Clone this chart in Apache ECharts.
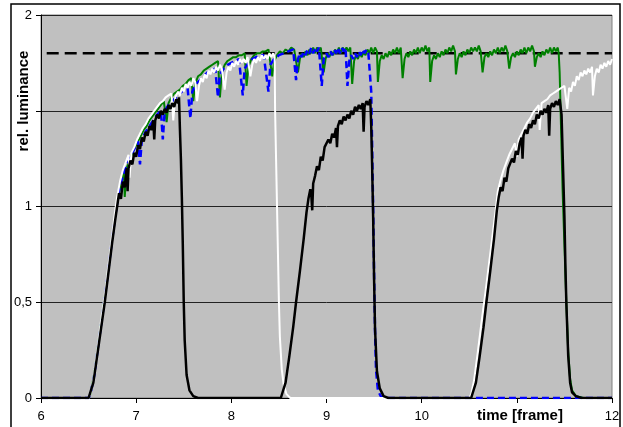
<!DOCTYPE html>
<html>
<head>
<meta charset="utf-8">
<script src="https://cdn.jsdelivr.net/npm/echarts@6/dist/echarts.min.js"></script>
<style>
    html, body { margin: 0; padding: 0; background: #fff; }
    #main { width: 623px; height: 427px; }
</style>
</head>
<body>
<div id="main"></div>
<script>
// time [frame] vs rel. luminance
const xTicks = [6, 7, 8, 9, 10, 11, 12]
const yTicks = [0, 0.5, 1, 1.5, 2]
const hiddenXLabels = [11]      // covered by the axis title
const hiddenYLabels = [1.5]     // covered by the axis title
const targetLevel = 1.8

const greenData = [
    [6, 0], [6.5, 0], [6.52, 0.02], [6.56, 0.13], [6.6, 0.28], [6.65, 0.46], [6.7, 0.64], [6.74, 0.8], [6.78, 0.95],
    [6.81, 1.05], [6.84, 1.12], [6.87, 1.18], [6.88, 1.05], [6.9, 1.2], [6.93, 1.24], [6.96, 1.28], [6.99, 1.31],
    [7.02, 1.34], [7.05, 1.37], [7.08, 1.4], [7.11, 1.42], [7.14, 1.45], [7.17, 1.47], [7.2, 1.49], [7.23, 1.51],
    [7.26, 1.53], [7.29, 1.55], [7.32, 1.44], [7.34, 1.54], [7.37, 1.57], [7.4, 1.59], [7.43, 1.6], [7.46, 1.61],
    [7.49, 1.63], [7.52, 1.64], [7.55, 1.66], [7.58, 1.67], [7.6, 1.55], [7.62, 1.64], [7.65, 1.68], [7.68, 1.69],
    [7.71, 1.71], [7.74, 1.72], [7.77, 1.73], [7.8, 1.74], [7.83, 1.75], [7.86, 1.76], [7.88, 1.57], [7.9, 1.7],
    [7.93, 1.74], [7.96, 1.76], [7.99, 1.77], [8.02, 1.78], [8.05, 1.78], [8.08, 1.79], [8.11, 1.79], [8.14, 1.8],
    [8.16, 1.63], [8.18, 1.73], [8.21, 1.77], [8.24, 1.79], [8.27, 1.8], [8.3, 1.8], [8.33, 1.81], [8.36, 1.81],
    [8.39, 1.82], [8.41, 1.82], [8.43, 1.68], [8.45, 1.76], [8.48, 1.79], [8.51, 1.81], [8.54, 1.8], [8.57, 1.82],
    [8.6, 1.81], [8.63, 1.83], [8.66, 1.82], [8.68, 1.83], [8.7, 1.7], [8.72, 1.77], [8.74, 1.8], [8.76, 1.78],
    [8.78, 1.81], [8.8, 1.79], [8.82, 1.82], [8.84, 1.8], [8.86, 1.83], [8.88, 1.8], [8.9, 1.83], [8.92, 1.81],
    [8.94, 1.83], [8.97, 1.7], [8.99, 1.77], [9.01, 1.8], [9.03, 1.78], [9.05, 1.81], [9.07, 1.79], [9.09, 1.82],
    [9.11, 1.8], [9.13, 1.83], [9.15, 1.8], [9.17, 1.83], [9.19, 1.81], [9.21, 1.83], [9.23, 1.81], [9.25, 1.83],
    [9.27, 1.64], [9.29, 1.76], [9.31, 1.79], [9.33, 1.77], [9.35, 1.8], [9.37, 1.78], [9.39, 1.81], [9.41, 1.79],
    [9.43, 1.82], [9.45, 1.8], [9.47, 1.83], [9.49, 1.8], [9.51, 1.83], [9.53, 1.81], [9.54, 1.65], [9.56, 1.76],
    [9.58, 1.79], [9.6, 1.77], [9.62, 1.8], [9.64, 1.78], [9.66, 1.81], [9.68, 1.79], [9.7, 1.82], [9.72, 1.8],
    [9.74, 1.83], [9.76, 1.8], [9.78, 1.83], [9.8, 1.67], [9.82, 1.77], [9.84, 1.8], [9.86, 1.78], [9.88, 1.81],
    [9.9, 1.79], [9.92, 1.82], [9.94, 1.8], [9.96, 1.83], [9.98, 1.8], [10, 1.83], [10.02, 1.81], [10.04, 1.84],
    [10.06, 1.81], [10.08, 1.83], [10.09, 1.65], [10.11, 1.76], [10.13, 1.79], [10.15, 1.77], [10.17, 1.8],
    [10.19, 1.78], [10.21, 1.81], [10.23, 1.79], [10.25, 1.82], [10.27, 1.8], [10.29, 1.83], [10.31, 1.81],
    [10.33, 1.84], [10.35, 1.81], [10.36, 1.69], [10.38, 1.77], [10.4, 1.8], [10.42, 1.78], [10.44, 1.81],
    [10.46, 1.79], [10.48, 1.82], [10.5, 1.8], [10.52, 1.83], [10.54, 1.81], [10.56, 1.83], [10.58, 1.81],
    [10.6, 1.84], [10.62, 1.81], [10.64, 1.7], [10.66, 1.78], [10.68, 1.8], [10.7, 1.78], [10.72, 1.81],
    [10.74, 1.79], [10.76, 1.82], [10.78, 1.8], [10.8, 1.83], [10.82, 1.8], [10.84, 1.83], [10.86, 1.81],
    [10.88, 1.84], [10.9, 1.81], [10.92, 1.72], [10.94, 1.78], [10.96, 1.8], [10.98, 1.78], [11, 1.81],
    [11.02, 1.79], [11.04, 1.82], [11.06, 1.8], [11.08, 1.83], [11.1, 1.8], [11.12, 1.83], [11.14, 1.81],
    [11.16, 1.84], [11.18, 1.81], [11.19, 1.73], [11.21, 1.78], [11.23, 1.8], [11.25, 1.78], [11.27, 1.81],
    [11.29, 1.79], [11.31, 1.82], [11.33, 1.8], [11.35, 1.83], [11.37, 1.8], [11.39, 1.83], [11.41, 1.81],
    [11.43, 1.83], [11.44, 1.8], [11.45, 1.7], [11.46, 1.5], [11.47, 1.3], [11.48, 1.1], [11.5, 0.8], [11.52, 0.5],
    [11.54, 0.24], [11.56, 0.1], [11.58, 0.04], [11.62, 0.01], [11.7, 0], [12, 0]
]

const blueData = [
    [6, 0], [6.5, 0], [6.52, 0.02], [6.56, 0.12], [6.6, 0.27], [6.65, 0.45], [6.7, 0.64], [6.74, 0.8], [6.78, 0.95],
    [6.82, 1.08], [6.86, 1.16], [6.9, 1.22], [6.94, 1.26], [6.98, 1.3], [7.02, 1.34], [7.04, 1.22], [7.06, 1.35],
    [7.1, 1.39], [7.14, 1.42], [7.18, 1.45], [7.22, 1.48], [7.26, 1.5], [7.28, 1.35], [7.3, 1.5], [7.34, 1.53],
    [7.38, 1.55], [7.42, 1.57], [7.46, 1.59], [7.5, 1.61], [7.54, 1.62], [7.57, 1.46], [7.59, 1.6], [7.63, 1.64],
    [7.67, 1.66], [7.71, 1.68], [7.75, 1.7], [7.79, 1.71], [7.83, 1.72], [7.86, 1.57], [7.88, 1.69], [7.92, 1.72],
    [7.96, 1.74], [8, 1.75], [8.04, 1.76], [8.08, 1.77], [8.12, 1.58], [8.14, 1.72], [8.18, 1.75], [8.22, 1.77],
    [8.26, 1.78], [8.3, 1.79], [8.34, 1.79], [8.39, 1.6], [8.41, 1.74], [8.45, 1.77], [8.5, 1.79], [8.55, 1.8],
    [8.6, 1.81], [8.65, 1.82], [8.68, 1.66], [8.7, 1.77], [8.72, 1.8], [8.74, 1.78], [8.76, 1.81], [8.78, 1.79],
    [8.8, 1.82], [8.82, 1.8], [8.84, 1.83], [8.86, 1.8], [8.88, 1.83], [8.9, 1.81], [8.92, 1.83], [8.95, 1.63],
    [8.97, 1.77], [9, 1.8], [9.02, 1.78], [9.04, 1.81], [9.06, 1.79], [9.08, 1.82], [9.1, 1.8], [9.12, 1.83],
    [9.14, 1.8], [9.16, 1.83], [9.18, 1.81], [9.2, 1.83], [9.22, 1.63], [9.24, 1.76], [9.26, 1.79], [9.28, 1.77],
    [9.3, 1.8], [9.32, 1.78], [9.34, 1.81], [9.36, 1.79], [9.38, 1.82], [9.4, 1.8], [9.42, 1.82], [9.44, 1.8],
    [9.46, 1.81], [9.47, 1.6], [9.48, 1.3], [9.49, 1.0], [9.5, 0.65], [9.51, 0.35], [9.52, 0.15], [9.54, 0.04],
    [9.57, 0.01], [9.6, 0], [12, 0]
]

const whiteData = [
    [6, 0], [6.5, 0], [6.52, 0.02], [6.55, 0.1], [6.59, 0.25], [6.63, 0.4], [6.67, 0.54], [6.71, 0.7], [6.75, 0.86],
    [6.78, 0.98], [6.8, 1.05], [6.83, 1.13], [6.86, 1.19], [6.89, 1.23], [6.92, 1.27], [6.93, 1.15], [6.95, 1.28],
    [6.98, 1.31], [7.01, 1.35], [7.04, 1.38], [7.07, 1.41], [7.1, 1.43], [7.13, 1.46], [7.16, 1.48], [7.19, 1.5],
    [7.22, 1.52], [7.25, 1.54], [7.28, 1.55], [7.31, 1.57], [7.34, 1.58], [7.37, 1.59], [7.39, 1.45], [7.41, 1.57],
    [7.44, 1.6], [7.46, 1.58], [7.48, 1.62], [7.5, 1.6], [7.52, 1.64], [7.54, 1.62], [7.56, 1.65], [7.58, 1.63],
    [7.6, 1.67], [7.62, 1.65], [7.64, 1.55], [7.66, 1.63], [7.68, 1.67], [7.7, 1.65], [7.72, 1.69], [7.74, 1.67],
    [7.76, 1.71], [7.78, 1.69], [7.8, 1.72], [7.82, 1.7], [7.84, 1.73], [7.86, 1.71], [7.88, 1.74], [7.9, 1.72],
    [7.93, 1.61], [7.95, 1.7], [7.97, 1.73], [7.99, 1.71], [8.01, 1.75], [8.03, 1.73], [8.05, 1.76], [8.07, 1.74],
    [8.09, 1.77], [8.11, 1.75], [8.13, 1.77], [8.15, 1.75], [8.17, 1.78], [8.2, 1.68], [8.22, 1.74], [8.24, 1.77],
    [8.26, 1.75], [8.28, 1.78], [8.3, 1.76], [8.32, 1.79], [8.34, 1.77], [8.36, 1.79], [8.38, 1.77], [8.4, 1.8],
    [8.42, 1.78], [8.44, 1.8], [8.455, 1.78], [8.46, 1.5], [8.47, 1.25], [8.48, 1.0], [8.49, 0.75], [8.5, 0.5],
    [8.51, 0.32], [8.53, 0.15], [8.55, 0.07], [8.58, 0.02], [8.62, 0], [10.5, 0],
    [10.52, 0.02], [10.55, 0.09], [10.59, 0.24], [10.63, 0.4], [10.67, 0.55], [10.71, 0.71], [10.75, 0.87],
    [10.78, 0.99], [10.8, 1.08], [10.83, 1.14], [10.86, 1.19], [10.89, 1.23], [10.92, 1.27], [10.95, 1.3],
    [10.98, 1.33], [11, 1.26], [11.02, 1.35], [11.05, 1.38], [11.08, 1.41], [11.11, 1.44], [11.14, 1.46],
    [11.17, 1.49], [11.2, 1.51], [11.23, 1.53], [11.24, 1.4], [11.26, 1.54], [11.29, 1.55], [11.32, 1.56],
    [11.35, 1.58], [11.38, 1.59], [11.41, 1.6], [11.44, 1.61], [11.47, 1.62], [11.5, 1.63], [11.53, 1.51],
    [11.55, 1.62], [11.57, 1.6], [11.59, 1.65], [11.61, 1.63], [11.63, 1.68], [11.65, 1.66], [11.67, 1.7],
    [11.69, 1.68], [11.71, 1.71], [11.73, 1.69], [11.75, 1.72], [11.77, 1.7], [11.79, 1.73], [11.8, 1.58],
    [11.82, 1.68], [11.84, 1.72], [11.86, 1.7], [11.88, 1.74], [11.9, 1.72], [11.92, 1.75], [11.94, 1.73],
    [11.96, 1.76], [11.98, 1.74], [12, 1.77]
]

const blackData = [
    [6, 0], [6.5, 0], [6.52, 0.01], [6.55, 0.08], [6.59, 0.22], [6.63, 0.36], [6.67, 0.5], [6.71, 0.66], [6.75, 0.82],
    [6.78, 0.93], [6.8, 1.0], [6.82, 1.07], [6.84, 1.04], [6.86, 1.13], [6.88, 1.1], [6.9, 1.2], [6.91, 1.08],
    [6.92, 1.2], [6.94, 1.24], [6.96, 1.22], [6.98, 1.28], [7, 1.26], [7.02, 1.32], [7.04, 1.3], [7.06, 1.36],
    [7.08, 1.34], [7.1, 1.39], [7.12, 1.37], [7.14, 1.42], [7.16, 1.4], [7.18, 1.45], [7.19, 1.35], [7.2, 1.45],
    [7.22, 1.48], [7.24, 1.46], [7.26, 1.5], [7.28, 1.48], [7.3, 1.51], [7.32, 1.49], [7.34, 1.53], [7.36, 1.51],
    [7.38, 1.54], [7.4, 1.52], [7.42, 1.56], [7.44, 1.54], [7.45, 1.57], [7.46, 1.4], [7.47, 1.25], [7.48, 1.05],
    [7.49, 0.8], [7.5, 0.5], [7.51, 0.3], [7.53, 0.12], [7.56, 0.04], [7.6, 0.01], [7.65, 0], [8.52, 0],
    [8.54, 0.01], [8.57, 0.08], [8.61, 0.22], [8.65, 0.37], [8.68, 0.5], [8.72, 0.66], [8.76, 0.83], [8.79, 0.97],
    [8.81, 1.04], [8.83, 1.09], [8.84, 1.06], [8.85, 0.98], [8.86, 1.12], [8.88, 1.16], [8.9, 1.21], [8.92, 1.19],
    [8.94, 1.26], [8.96, 1.24], [8.98, 1.31], [9, 1.3], [9.02, 1.35], [9.04, 1.33], [9.06, 1.38], [9.08, 1.36],
    [9.1, 1.41], [9.11, 1.31], [9.12, 1.42], [9.14, 1.45], [9.16, 1.43], [9.18, 1.47], [9.2, 1.45], [9.22, 1.48],
    [9.24, 1.46], [9.26, 1.5], [9.28, 1.48], [9.3, 1.52], [9.32, 1.5], [9.34, 1.53], [9.36, 1.51], [9.38, 1.54],
    [9.39, 1.39], [9.4, 1.52], [9.42, 1.55], [9.44, 1.53], [9.46, 1.56], [9.47, 1.42], [9.48, 1.2], [9.49, 0.95],
    [9.5, 0.62], [9.51, 0.36], [9.53, 0.14], [9.56, 0.05], [9.6, 0.01], [9.65, 0], [10.52, 0],
    [10.54, 0.01], [10.57, 0.08], [10.61, 0.22], [10.65, 0.37], [10.68, 0.5], [10.72, 0.66], [10.76, 0.83],
    [10.79, 0.98], [10.81, 1.05], [10.83, 1.1], [10.85, 1.08], [10.87, 1.15], [10.89, 1.13], [10.91, 1.2],
    [10.93, 1.19], [10.95, 1.25], [10.97, 1.23], [10.99, 1.29], [11.01, 1.27], [11.03, 1.33], [11.05, 1.36],
    [11.06, 1.25], [11.07, 1.37], [11.09, 1.4], [11.11, 1.38], [11.13, 1.43], [11.15, 1.41], [11.17, 1.45],
    [11.19, 1.43], [11.21, 1.48], [11.23, 1.46], [11.25, 1.5], [11.27, 1.48], [11.29, 1.51], [11.31, 1.49],
    [11.33, 1.53], [11.34, 1.37], [11.35, 1.51], [11.37, 1.54], [11.39, 1.52], [11.41, 1.55], [11.43, 1.53],
    [11.45, 1.56], [11.47, 1.48], [11.48, 1.3], [11.5, 0.95], [11.51, 0.7], [11.52, 0.5], [11.54, 0.22],
    [11.56, 0.08], [11.58, 0.03], [11.62, 0.01], [11.68, 0], [12, 0]
]

var echart = echarts.init(document.getElementById('main'), null, { renderer: 'canvas' })

const labelFont = 'Liberation Sans, Arial, sans-serif'

function lineSeries(data, color, width, dash) {
    return {
        type: 'line',
        data: data,
        showSymbol: false,
        symbol: 'none',
        silent: true,
        lineStyle: { color: color, width: width, type: dash || 'solid' }
    }
}

let option = {
    animation: false,
    backgroundColor: '#fff',
    grid: {
        left: 41,
        right: 11,
        top: 15,
        bottom: 29,
        show: true,
        backgroundColor: '#c0c0c0',
        borderColor: '#808080',
        borderWidth: 1
    },
    xAxis: {
        type: 'value',
        min: xTicks[0],
        max: xTicks[xTicks.length - 1],
        interval: 1,
        axisLine: { show: true, onZero: false, lineStyle: { color: '#000', width: 1 } },
        axisTick: { show: true, inside: false, length: 5, lineStyle: { color: '#000' } },
        splitLine: { show: false },
        axisLabel: {
            color: '#000',
            fontFamily: labelFont,
            fontSize: 13,
            margin: 12,
            formatter: v => hiddenXLabels.includes(v) ? '' : String(v)
        }
    },
    yAxis: {
        type: 'value',
        min: yTicks[0],
        max: yTicks[yTicks.length - 1],
        interval: 0.5,
        axisLine: { show: true, lineStyle: { color: '#000', width: 1 } },
        axisTick: { show: true, inside: false, length: 5, lineStyle: { color: '#000' } },
        splitLine: { show: true, lineStyle: { color: '#222', width: 1 } },
        axisLabel: {
            color: '#000',
            fontFamily: labelFont,
            fontSize: 13,
            margin: 9,
            formatter: v => hiddenYLabels.includes(v) ? '' : String(v).replace('.', ',')
        }
    },
    graphic: [
        {
            type: 'rect',
            shape: { x: 11, y: 4, width: 609, height: 440 },
            style: { fill: 'rgba(0,0,0,0)', stroke: '#000', lineWidth: 1.5 },
            silent: true
        },
        {
            type: 'text',
            x: 24,
            y: 101,
            rotation: Math.PI / 2,
            style: {
                text: 'rel. luminance',
                font: 'bold 15px Liberation Sans, Arial, sans-serif',
                fill: '#000',
                align: 'center',
                verticalAlign: 'middle',
                textAlign: 'center',
                textVerticalAlign: 'middle'
            }
        },
        {
            type: 'text',
            x: 520,
            y: 416,
            style: {
                text: 'time [frame]',
                font: 'bold 15px Liberation Sans, Arial, sans-serif',
                fill: '#000',
                align: 'center',
                verticalAlign: 'middle',
                textAlign: 'center',
                textVerticalAlign: 'middle'
            }
        }
    ],
    series: [
        lineSeries([[6.06, targetLevel], [12, targetLevel]], '#000', 2.5, [12, 6]),
        lineSeries(greenData, '#008000', 2),
        lineSeries(blueData, '#0000ff', 2.5, [7, 4]),
        lineSeries(whiteData, '#ffffff', 2),
        lineSeries(blackData, '#000000', 2.5)
    ]
}
echart.setOption(option)
</script>
</body>
</html>
